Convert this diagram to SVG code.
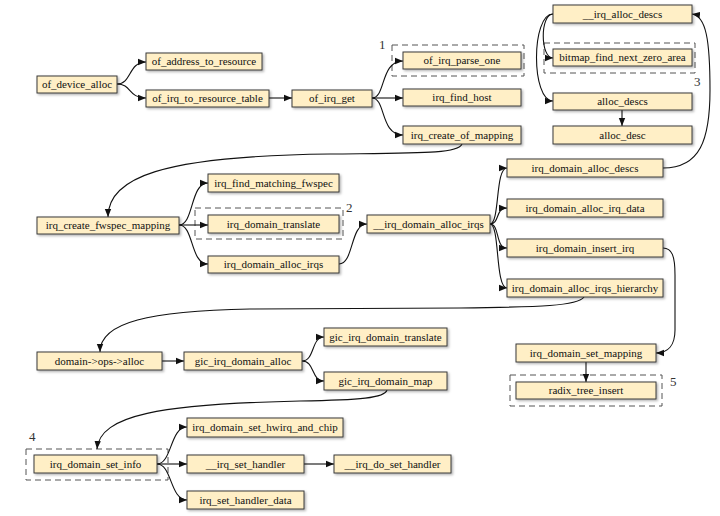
<svg xmlns="http://www.w3.org/2000/svg" width="720" height="516" viewBox="0 0 720 516">
<style>
.n rect{fill:#FFEFC6;stroke:#3a3a3a;stroke-width:1;filter:url(#sh)}
.n text{font-family:"Liberation Serif","Times New Roman",serif;font-size:11px;fill:#111;text-anchor:middle}
.c path{fill:none;stroke:#111;stroke-width:1.1;marker-end:url(#ah)}
.d{fill:none;stroke:#555;stroke-width:1;stroke-dasharray:6,4}
.lb{font-family:"Liberation Serif","Times New Roman",serif;font-size:13px;fill:#333}
</style>
<defs>
<filter id="sh" x="-10%" y="-20%" width="130%" height="160%"><feDropShadow dx="1.5" dy="1.5" stdDeviation="1" flood-color="#000" flood-opacity="0.3"/></filter>
<marker id="ah" viewBox="0 0 10 10" refX="10" refY="5" markerUnits="userSpaceOnUse" markerWidth="8" markerHeight="8" orient="auto"><path d="M0,1 L10,5 L0,9 z" fill="#111"/></marker>
</defs>
<rect width="720" height="516" fill="#fff"/>
<g id="groups">
<rect class="d" x="392" y="45" width="132" height="31"/>
<text class="lb" x="379" y="49">1</text>
<rect class="d" x="195" y="208" width="148" height="31"/>
<text class="lb" x="346" y="212">2</text>
<rect class="d" x="544" y="43" width="151" height="30"/>
<text class="lb" x="694" y="86">3</text>
<rect class="d" x="26" y="449" width="142" height="31"/>
<text class="lb" x="29" y="441">4</text>
<rect class="d" x="510" y="375" width="152" height="31"/>
<text class="lb" x="670" y="386">5</text>
</g>
<g id="connectors" class="c">
<path d="M117,84 C132,84 128,62 146,62"/>
<path d="M117,84 C132,84 128,98 146,98"/>
<path d="M269,98 L292,98"/>
<path d="M372,98 C386,98 380,61 403,61"/>
<path d="M372,98 L403,98"/>
<path d="M372,98 C386,98 380,135 403,135"/>
<path d="M462,144 C458,154 420,153 330,154 C160,156 108,178 108,217"/>
<path d="M179,225 C194,225 190,183 208,183"/>
<path d="M179,225 L208,225"/>
<path d="M179,225 C194,225 190,264 208,264"/>
<path d="M339,264 C354,264 350,224 367,224"/>
<path d="M490,224 C500,224 495,168 507,168"/>
<path d="M490,224 C500,224 495,208 507,208"/>
<path d="M490,224 C500,224 495,248 507,248"/>
<path d="M490,224 C500,224 495,288 507,288"/>
<path d="M663,168 C700,168 710,140 710,90 C710,40 706,16 692,14"/>
<path d="M553,14 C540,14 540,58 553,58"/>
<path d="M553,14 C531,14 531,101 553,101"/>
<path d="M622,110 L622,126"/>
<path d="M663,248 C672,248 675,256 675,275 L675,330 C675,345 668,353 656,353"/>
<path d="M584,297 C578,306 540,307 460,308 L250,309 C150,311 100,322 100,352"/>
<path d="M162,361 L184,361"/>
<path d="M302,361 C315,361 311,337 324,337"/>
<path d="M302,361 C315,361 311,381 324,381"/>
<path d="M387,390 C385,398 360,400 300,401 C160,404 100,415 97,449"/>
<path d="M157,464 C172,464 170,427 187,427"/>
<path d="M157,464 L187,464"/>
<path d="M157,464 C172,464 170,500 187,500"/>
<path d="M304,464 L334,464"/>
<path d="M586,362 L586,382"/>
</g>
<g id="of_device_alloc" class="n"><rect x="37" y="76" width="80" height="17"/><text x="77" y="88">of_device_alloc</text></g>
<g id="of_address_to_resource" class="n"><rect x="146" y="53" width="116" height="17"/><text x="204" y="65">of_address_to_resource</text></g>
<g id="of_irq_to_resource_table" class="n"><rect x="146" y="90" width="123" height="17"/><text x="207.5" y="102">of_irq_to_resource_table</text></g>
<g id="of_irq_get" class="n"><rect x="292" y="90" width="80" height="17"/><text x="332" y="102">of_irq_get</text></g>
<g id="of_irq_parse_one" class="n"><rect x="403" y="52" width="118" height="17"/><text x="462" y="64">of_irq_parse_one</text></g>
<g id="irq_find_host" class="n"><rect x="403" y="89" width="118" height="17"/><text x="462" y="101">irq_find_host</text></g>
<g id="irq_create_of_mapping" class="n"><rect x="403" y="126" width="118" height="18"/><text x="462" y="138.5">irq_create_of_mapping</text></g>
<g id="__irq_alloc_descs" class="n"><rect x="553" y="5" width="139" height="18"/><text x="622.5" y="17.5">__irq_alloc_descs</text></g>
<g id="bitmap_find_next_zero_area" class="n"><rect x="553" y="49" width="139" height="17"/><text x="622.5" y="61">bitmap_find_next_zero_area</text></g>
<g id="alloc_descs" class="n"><rect x="553" y="93" width="139" height="17"/><text x="622.5" y="105">alloc_descs</text></g>
<g id="alloc_desc" class="n"><rect x="553" y="126" width="139" height="18"/><text x="622.5" y="138.5">alloc_desc</text></g>
<g id="irq_create_fwspec_mapping" class="n"><rect x="37" y="217" width="142" height="17"/><text x="108" y="229">irq_create_fwspec_mapping</text></g>
<g id="irq_find_matching_fwspec" class="n"><rect x="208" y="174" width="131" height="18"/><text x="273.5" y="186.5">irq_find_matching_fwspec</text></g>
<g id="irq_domain_translate" class="n"><rect x="208" y="215" width="131" height="18"/><text x="273.5" y="227.5">irq_domain_translate</text></g>
<g id="irq_domain_alloc_irqs" class="n"><rect x="208" y="256" width="131" height="17"/><text x="273.5" y="268">irq_domain_alloc_irqs</text></g>
<g id="__irq_domain_alloc_irqs" class="n"><rect x="367" y="215" width="123" height="18"/><text x="428.5" y="227.5">__irq_domain_alloc_irqs</text></g>
<g id="irq_domain_alloc_descs" class="n"><rect x="507" y="159" width="156" height="18"/><text x="585" y="171.5">irq_domain_alloc_descs</text></g>
<g id="irq_domain_alloc_irq_data" class="n"><rect x="507" y="199" width="156" height="18"/><text x="585" y="211.5">irq_domain_alloc_irq_data</text></g>
<g id="irq_domain_insert_irq" class="n"><rect x="507" y="239" width="156" height="18"/><text x="585" y="251.5">irq_domain_insert_irq</text></g>
<g id="irq_domain_alloc_irqs_hierarchy" class="n"><rect x="507" y="279" width="156" height="18"/><text x="585" y="291.5">irq_domain_alloc_irqs_hierarchy</text></g>
<g id="domain_ops_alloc" class="n"><rect x="37" y="352" width="125" height="18"/><text x="99.5" y="364.5">domain-&gt;ops-&gt;alloc</text></g>
<g id="gic_irq_domain_alloc" class="n"><rect x="184" y="352" width="118" height="18"/><text x="243" y="364.5">gic_irq_domain_alloc</text></g>
<g id="gic_irq_domain_translate" class="n"><rect x="324" y="328" width="123" height="18"/><text x="385.5" y="340.5">gic_irq_domain_translate</text></g>
<g id="gic_irq_domain_map" class="n"><rect x="324" y="372" width="123" height="18"/><text x="385.5" y="384.5">gic_irq_domain_map</text></g>
<g id="irq_domain_set_mapping" class="n"><rect x="516" y="344" width="140" height="18"/><text x="586" y="356.5">irq_domain_set_mapping</text></g>
<g id="radix_tree_insert" class="n"><rect x="516" y="382" width="140" height="17"/><text x="586" y="394">radix_tree_insert</text></g>
<g id="irq_domain_set_info" class="n"><rect x="34" y="455" width="123" height="18"/><text x="95.5" y="467.5">irq_domain_set_info</text></g>
<g id="irq_domain_set_hwirq_and_chip" class="n"><rect x="187" y="418" width="156" height="19"/><text x="265" y="431">irq_domain_set_hwirq_and_chip</text></g>
<g id="__irq_set_handler" class="n"><rect x="187" y="455" width="117" height="18"/><text x="245.5" y="467.5">__irq_set_handler</text></g>
<g id="__irq_do_set_handler" class="n"><rect x="334" y="455" width="117" height="18"/><text x="392.5" y="467.5">__irq_do_set_handler</text></g>
<g id="irq_set_handler_data" class="n"><rect x="187" y="491" width="117" height="18"/><text x="245.5" y="503.5">irq_set_handler_data</text></g>
</svg>
